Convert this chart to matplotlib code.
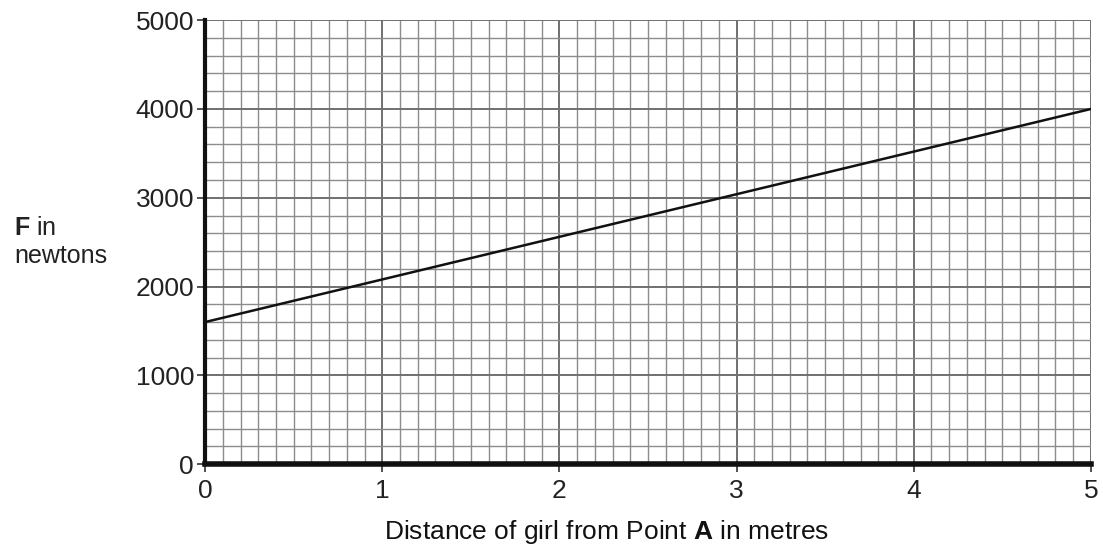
import numpy as np
import matplotlib.pyplot as plt
from matplotlib.ticker import MultipleLocator

plt.rcParams['font.family'] = ['Liberation Sans', 'DejaVu Sans']
plt.rcParams['mathtext.fontset'] = 'custom'
plt.rcParams['mathtext.rm'] = 'Liberation Sans'
plt.rcParams['mathtext.bf'] = 'Liberation Sans:bold'

# data
distance = [0, 5]          # metres
force = [1600, 4000]       # newtons

fig = plt.figure(figsize=(11.03, 5.46), dpi=100)
ax = fig.add_axes([0.186, 0.150, 0.803, 0.813])

ax.set_xlim(0, 5)
ax.set_ylim(0, 5000)

ax.xaxis.set_major_locator(MultipleLocator(1))
ax.xaxis.set_minor_locator(MultipleLocator(0.1))
ax.yaxis.set_major_locator(MultipleLocator(1000))
ax.yaxis.set_minor_locator(MultipleLocator(200))

ax.grid(which='major', color='#707070', linewidth=1.4)
ax.grid(which='minor', color='#8c8c8c', linewidth=1.0)
ax.set_axisbelow(True)

ax.plot(distance, force, color='#111111', linewidth=1.8)

for s in ['top', 'right']:
    ax.spines[s].set_visible(False)
ax.spines['left'].set_linewidth(3)
ax.spines['bottom'].set_linewidth(4)
ax.spines['left'].set_color('#111111')
ax.spines['bottom'].set_color('#111111')

ax.tick_params(which='minor', length=0)
ax.tick_params(which='major', length=6, width=1.2, color='#333333',
               labelsize=19, labelcolor='#222222')
ax.tick_params(axis='y', pad=2)
ax.tick_params(axis='x', pad=5)

ax.set_xlabel('Distance of girl from Point $\\mathbf{A}$ in metres',
              fontsize=19, color='#111111')
ax.xaxis.set_label_coords(0.453, -0.152)
ax.xaxis.label.set_va('center')
fig.text(0.013, 0.557, r'$\mathbf{F}$ in' + '\nnewtons', fontsize=18,
         ha='left', va='center', linespacing=1.2, color='#222222')

plt.savefig('out.png', dpi=100)
